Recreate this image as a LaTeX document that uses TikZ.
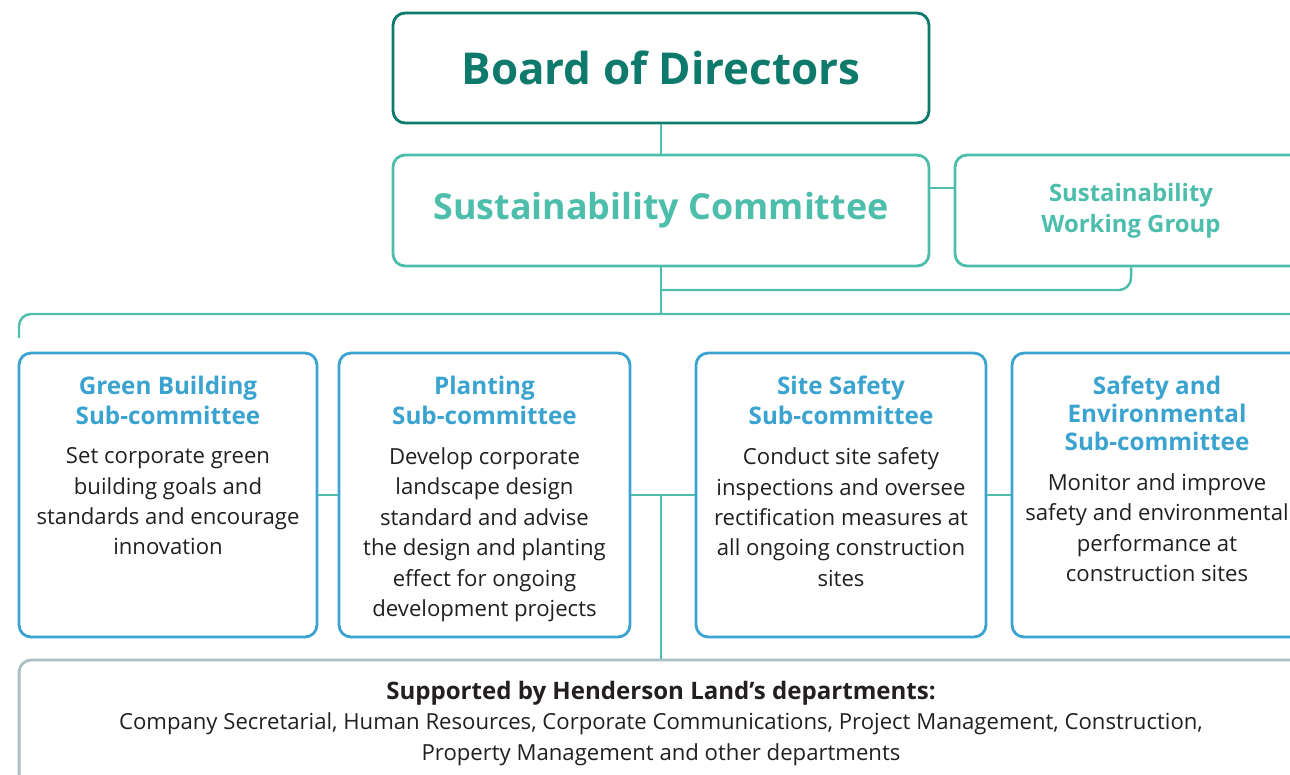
\documentclass[tikz,border=0pt]{standalone}
\usepackage{fontspec}
\setmainfont{Open Sans}
\usetikzlibrary{positioning}
\definecolor{boardteal}{HTML}{0E7A6C}
\definecolor{lightteal}{HTML}{4DBDAC}
\definecolor{subblue}{HTML}{3BA3CF}
\definecolor{deptgrey}{HTML}{AAC0C4}
\definecolor{bodytext}{HTML}{231F20}

\begin{document}
\begin{tikzpicture}[x=0.02cm,y=-0.02cm,
				box/.style={draw, rounded corners=0.24cm, line width=1.6pt, inner sep=0pt},
				subbox/.style={box, draw=subblue, minimum width=#1, minimum height=5.68cm},
				conn/.style={draw=lightteal, line width=1.4pt},
				title/.style={text=subblue, font=\bfseries\fontsize{13.8}{17}\selectfont, align=center, inner sep=0pt},
				body/.style={text=bodytext, font=\fontsize{12.6}{17.3}\selectfont, align=center, inner sep=0pt}]
			\useasboundingbox (0,0) rectangle (1290,774);
			\clip (0,0) rectangle (1290,774);
			\node[box, draw=boardteal, text=boardteal, minimum width=10.72cm, minimum height=2.2cm,
				font=\bfseries\fontsize{25}{30}\selectfont] (board) at (661,68) {Board of Directors};
			\node[box, draw=lightteal, text=lightteal, minimum width=10.72cm, minimum height=2.22cm,
				font=\bfseries\fontsize{20.4}{25}\selectfont] (sc) at (661,210.5) {Sustainability Committee};
			\node[box, draw=lightteal, text=lightteal, minimum width=7.04cm, minimum height=2.22cm, align=center,
				font=\bfseries\fontsize{13.6}{17.5}\selectfont] (swg) at (1131,210.5) {Sustainability\\Working Group};
			\node[subbox=5.96cm] (green) at (168,495) {};
			\node[subbox=5.82cm] (planting) at (484.5,495) {};
			\node[subbox=5.8cm] (safety) at (841,495) {};
			\node[subbox=5.8cm] (envi) at (1157,495) {};
			\node[title, below=0.48cm of green.north] (greentitle) {Green Building\\Sub-committee};
			\node[body, below=0.45cm of greentitle] (greenbody) {Set corporate green\\building goals and\\standards and encourage\\innovation};
			\node[title, below=0.48cm of planting.north] (plantingtitle) {Planting\\Sub-committee};
			\node[body, below=0.45cm of plantingtitle] (plantingbody) {Develop corporate\\landscape design\\standard and advise\\the design and planting\\effect for ongoing\\development projects};
			\node[title, below=0.48cm of safety.north] (safetytitle) {Site Safety\\Sub-committee};
			\node[body, below=0.45cm of safetytitle] (safetybody) {Conduct site safety\\inspections and oversee\\rectification measures at\\all ongoing construction\\sites};
			\node[title, font=\bfseries\fontsize{13.8}{15.8}\selectfont, below=0.48cm of envi.north] (envititle) {Safety and\\Environmental\\Sub-committee};
			\node[body, below=0.45cm of envititle] (envibody) {Monitor and improve\\safety and environmental\\performance at\\construction sites};
			\node[box, draw=deptgrey, minimum width=25.68cm, minimum height=2.6cm] (support) at (661,725) {};
			\node[body, below=0.44cm of support.north] (supporttext) {{\bfseries\fontsize{13.7}{17.3}\selectfont Supported by Henderson Land’s departments:}\\Company Secretarial, Human Resources, Corporate Communications, Project Management, Construction,\\Property Management and other departments};
			\coordinate (busleft) at (19,338);
			\coordinate (busright) at (1300,314);
			\coordinate (wgjoin) at (661,290);
			\draw[conn] (board) -- (sc);
			\draw[conn] ([yshift=0.45cm]sc.east) -- ([yshift=0.45cm]swg.west);
			\draw[conn] (sc.south) -- (sc.south |- busright);
			\draw[conn, rounded corners=0.24cm] (swg.south) |- (wgjoin);
			\draw[conn, rounded corners=0.24cm] (busleft) |- (busright);
			\draw[conn] (green) -- (planting);
			\draw[conn] (planting) -- (safety);
			\draw[conn] (safety) -- (envi);
			\draw[conn] (support.north) -- (support.north |- safety.west);
		\end{tikzpicture}
\end{document}
